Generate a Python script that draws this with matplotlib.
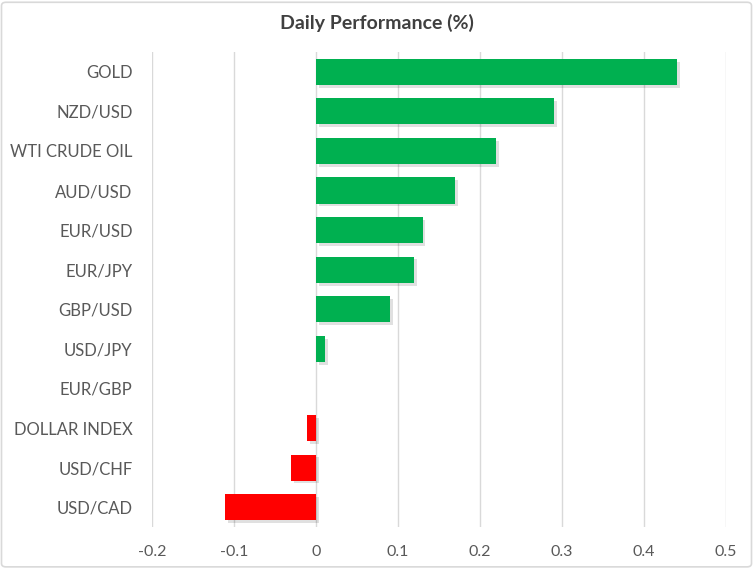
"""Daily performance bar chart (Excel-style horizontal bars)."""

import matplotlib
matplotlib.use("Agg")
import matplotlib.pyplot as plt
import matplotlib.patheffects as pe
from matplotlib.patches import FancyBboxPatch
import numpy as np

# data, top to bottom
CATEGORIES = ["GOLD", "NZD/USD", "WTI CRUDE OIL", "AUD/USD", "EUR/USD",
              "EUR/JPY", "GBP/USD", "USD/JPY", "EUR/GBP", "DOLLAR INDEX",
              "USD/CHF", "USD/CAD"]
VALUES = [0.44, 0.29, 0.22, 0.17, 0.13, 0.12, 0.09, 0.011, 0.0,
          -0.011, -0.03, -0.111]
XTICKS = [-0.2, -0.1, 0, 0.1, 0.2, 0.3, 0.4, 0.5]
XTICK_LABELS = ["-0.2", "-0.1", "0", "0.1", "0.2", "0.3", "0.4", "0.5"]

GREEN = "#00B050"
RED = "#FF0000"
TEXT = "#595959"
GRID = "#D9D9D9"

plt.rcParams["font.family"] = ["Lato", "DejaVu Sans"]

fig = plt.figure(figsize=(7.53, 5.68), dpi=100)
ax = fig.add_axes([152 / 753, 1 - 527 / 568, 574 / 753, 475 / 568])

# light frame round the whole chart
fig.patches.append(FancyBboxPatch((0.002, 0.002), 0.996, 0.994,
                                  boxstyle="round,pad=0,rounding_size=0.006",
                                  transform=fig.transFigure, fill=False,
                                  edgecolor="#D9D9D9", linewidth=1.2))

yp = np.arange(len(CATEGORIES))
colors = [GREEN if v >= 0 else RED for v in VALUES]
bars = ax.barh(yp, VALUES, height=0.66, color=colors, zorder=3)
for b in bars:
    b.set_path_effects([pe.SimplePatchShadow(offset=(2, -2), alpha=0.12,
                                             shadow_rgbFace="#000000"),
                        pe.Normal()])

ax.set_yticks(yp)
ax.set_yticklabels(CATEGORIES)
ax.set_ylim(len(CATEGORIES) - 0.5, -0.5)
ax.set_xlim(-0.2, 0.5)
ax.set_xticks(XTICKS)
ax.set_xticklabels(XTICK_LABELS)

ax.grid(axis="x", color=GRID, linewidth=1, zorder=0)
ax.set_axisbelow(True)
for s in ax.spines.values():
    s.set_visible(False)
ax.tick_params(axis="both", length=0, colors=TEXT)
ax.tick_params(axis="x", labelsize=11.5, pad=13)
ax.tick_params(axis="y", labelsize=12, pad=14)

fig.text(0.5, 1 - 23 / 568, "Daily Performance (%)", ha="center", va="center",
         fontsize=14, fontweight="bold", color="#404040")

fig.savefig("out.png", dpi=100)
